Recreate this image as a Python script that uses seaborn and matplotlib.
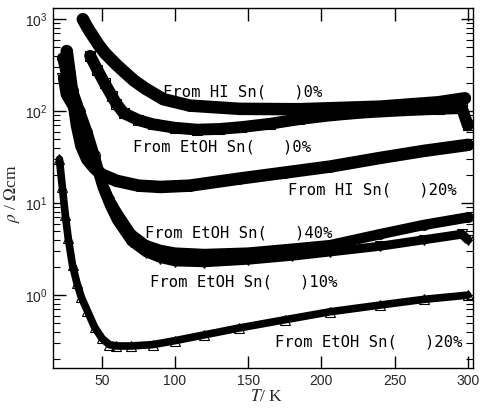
import matplotlib
matplotlib.use("Agg")
import matplotlib.pyplot as plt
import seaborn as sns

# resistivity curves (T in K, rho in Ohm cm)
hi0_T = [37, 40, 44, 48, 52, 56, 60, 65, 72, 80, 92, 110, 144, 185, 240, 280, 298]
hi0_rho = [1000, 820, 650, 520, 430, 370, 320, 270, 215, 175, 135, 115, 106, 105, 112, 125, 138]

etoh0_T = [42, 47, 52, 57, 60, 65, 75, 85, 100, 115, 130, 145, 165, 185, 206, 230, 255, 280, 296, 300]
etoh0_rho = [400, 280, 200, 145, 120, 95, 80, 72, 66, 63, 64, 67, 73, 82, 90, 97, 102, 106, 108, 70]

hi20_T = [26, 28, 30, 33, 36, 40, 45, 50, 60, 75, 90, 110, 144, 175, 206, 240, 270, 300]
hi20_rho = [450, 260, 150, 70, 42, 30, 24, 20.5, 17.5, 15.5, 15, 15.5, 18.5, 21.5, 25, 31, 37, 43]

etoh40_T = [23, 25, 30, 35, 40, 45, 50, 55, 60, 70, 80, 90, 100, 120, 150, 180, 206, 240, 270, 300]
etoh40_rho = [380, 280, 170, 100, 60, 33, 17, 11, 8, 4.6, 3.5, 3.1, 2.9, 2.8, 2.9, 3.2, 3.5, 4.6, 5.8, 7.0]

etoh10_T = [23, 25, 30, 35, 40, 45, 50, 55, 60, 70, 80, 90, 100, 120, 150, 180, 206, 240, 270, 296, 300]
etoh10_rho = [230, 150, 110, 75, 48, 28, 15, 9.5, 6.5, 3.8, 2.9, 2.5, 2.3, 2.25, 2.4, 2.65, 2.95, 3.4, 4.0, 4.6, 4.0]

etoh20_T = [21, 23, 25, 27, 30, 33, 36, 40, 45, 50, 55, 60, 70, 85, 100, 120, 144, 175, 206, 240, 270, 300]
etoh20_rho = [30, 15, 7.5, 4.2, 2.1, 1.35, 0.95, 0.68, 0.45, 0.34, 0.29, 0.28, 0.28, 0.29, 0.32, 0.37, 0.44, 0.54, 0.66, 0.78, 0.9, 1.0]

labels = ["From HI Sn(   )0%", "From EtOH Sn(   )0%", "From HI Sn(   )20%",
          "From EtOH Sn(   )40%", "From EtOH Sn(   )10%", "From EtOH Sn(   )20%"]
label_T = [91.7, 71.2, 177, 79.4, 82.8, 168]
label_rho = [161, 40.6, 13.8, 4.72, 1.38, 0.308]

sns.set_style("ticks")
plt.rcParams["font.family"] = ["Liberation Sans", "DejaVu Sans"]
plt.rcParams["mathtext.fontset"] = "stix"

fig = plt.figure(figsize=(4.8, 4.09), dpi=100)
ax = fig.add_axes([0.110, 0.100, 0.875, 0.880])

series = [
    (hi0_T, hi0_rho, "o", 9.0),
    (etoh0_T, etoh0_rho, "s", 8.5),
    (hi20_T, hi20_rho, "o", 9.0),
    (etoh40_T, etoh40_rho, "o", 7.5),
    (etoh10_T, etoh10_rho, "v", 6.5),
    (etoh20_T, etoh20_rho, "^", 5.5),
]
for T, rho, mk, lw in series:
    sns.lineplot(x=T, y=rho, ax=ax, color="black", linewidth=lw, estimator=None,
                 marker=mk, markersize=7, markerfacecolor="none",
                 markeredgecolor="black", markeredgewidth=0.8,
                 solid_capstyle="round", solid_joinstyle="round")

ax.set_yscale("log")
ax.set_xlim(16.5, 303.4)
ax.set_ylim(0.161, 1317)
ax.set_xticks([50, 100, 150, 200, 250, 300])

for txt, tx, ty in zip(labels, label_T, label_rho):
    ax.text(tx, ty, txt, fontsize=11.2, family="DejaVu Sans Mono",
            ha="left", va="center", color="black")

ax.tick_params(which="both", direction="in", top=True, right=True,
               color="black", labelsize=10, pad=4)
ax.tick_params(which="major", length=9, width=1)
ax.tick_params(which="minor", length=5, width=0.8)
ax.tick_params(axis="x", which="minor", top=False, bottom=False)
for sp in ax.spines.values():
    sp.set_visible(True)
    sp.set_color("black")
    sp.set_linewidth(1)

ax.set_xlabel("$T$/ K", fontsize=12.5, family="Liberation Serif", va="center")
ax.set_ylabel(r"$\rho$ / $\Omega$cm", fontsize=12.5, family="Liberation Serif")
ax.xaxis.set_label_coords(0.51, -0.080)
ax.yaxis.set_label_coords(-0.074, 0.486)

fig.savefig("out.png", dpi=100)
